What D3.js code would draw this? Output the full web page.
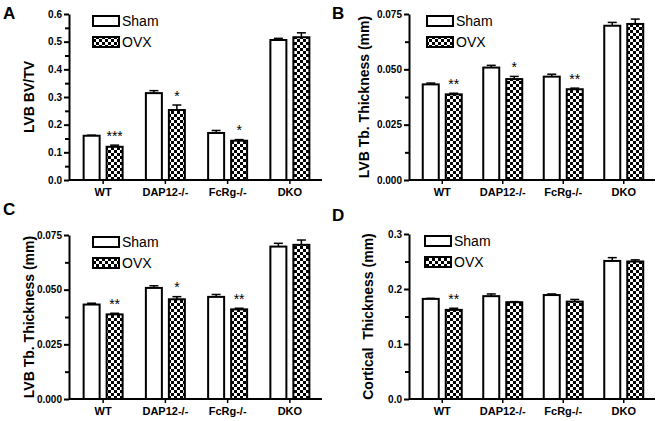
<!DOCTYPE html>
<html>
<head>
<meta charset="utf-8">
<script src="https://cdn.jsdelivr.net/npm/d3@7"></script>
<style>
  html, body { margin: 0; padding: 0; background: #fff; }
  svg { display: block; font-family: Arial, "Liberation Sans", sans-serif; }
</style>
</head>
<body>
<svg id="chart" width="661" height="421"></svg>
<script>
// ---------- data ----------
const categories = ["WT", "DAP12-/-", "FcRg-/-", "DKO"];
const seriesNames = ["Sham", "OVX"];

const bvtvSham    = [0.160, 0.314, 0.170, 0.506];
const bvtvShamErr = [0.002, 0.009, 0.009, 0.006];
const bvtvOvx     = [0.120, 0.253, 0.142, 0.516];
const bvtvOvxErr  = [0.006, 0.018, 0.004, 0.016];
const bvtvStars   = ["***", "*", "*", ""];
const bvtvTicks   = [0, 0.1, 0.2, 0.3, 0.4, 0.5, 0.6];

const tbSham    = [0.0432, 0.0508, 0.0467, 0.0697];
const tbShamErr = [0.0006, 0.0010, 0.0011, 0.0015];
const tbOvx     = [0.0387, 0.0456, 0.0410, 0.0705];
const tbOvxErr  = [0.0005, 0.0012, 0.0005, 0.0022];
const tbStars   = ["**", "*", "**", ""];
const tbTicks   = [0, 0.025, 0.050, 0.075];

const ctSham    = [0.182, 0.187, 0.189, 0.251];
const ctShamErr = [0.001, 0.004, 0.002, 0.006];
const ctOvx     = [0.162, 0.176, 0.177, 0.250];
const ctOvxErr  = [0.003, 0.001, 0.004, 0.003];
const ctStars   = ["**", "", "", ""];
const ctTicks   = [0, 0.1, 0.2, 0.3];

// ---------- drawing ----------
const svg = d3.select("#chart");
const defs = svg.append("defs");
const pat = defs.append("pattern").attr("id", "checker")
  .attr("patternUnits", "userSpaceOnUse").attr("width", 6).attr("height", 6);
pat.append("rect").attr("width", 6).attr("height", 6).attr("fill", "#fff");
pat.append("rect").attr("x", 0).attr("y", 0).attr("width", 3).attr("height", 3).attr("fill", "#000");
pat.append("rect").attr("x", 3).attr("y", 3).attr("width", 3).attr("height", 3).attr("fill", "#000");

function panel(cfg) {
  const g = svg.append("g");
  const y = d3.scaleLinear().domain([0, cfg.yMax]).range([cfg.bottom, cfg.top]);
  const x = d3.scaleBand().domain(categories).range([cfg.left + 3, cfg.right - 1]).padding(0);

  // panel letter
  svg.append("text").attr("x", cfg.letterX).attr("y", cfg.letterY)
    .attr("font-size", 17).attr("font-weight", "bold").text(cfg.letter);

  // y axis
  const minorTicks = [];
  for (let i = 0; i < cfg.ticks.length - 1; i++) minorTicks.push((cfg.ticks[i] + cfg.ticks[i + 1]) / 2);
  const yAxis = d3.axisLeft(y).tickValues(cfg.ticks).tickFormat(cfg.fmt).tickSize(5).tickSizeOuter(0).tickPadding(2);
  const ya = g.append("g").attr("transform", `translate(${cfg.left},0)`).call(yAxis);
  ya.select(".domain").attr("stroke-width", 2).attr("stroke", "#000");
  ya.selectAll(".tick line").attr("stroke-width", 2);
  ya.selectAll(".tick text").attr("font-size", 10).attr("font-weight", "bold")
    .attr("font-family", "Arial, 'Liberation Sans', sans-serif");
  const yMinor = d3.axisLeft(y).tickValues(minorTicks).tickFormat("").tickSize(4).tickSizeOuter(0);
  const ym = g.append("g").attr("transform", `translate(${cfg.left},0)`).call(yMinor);
  ym.select(".domain").remove();
  ym.selectAll(".tick line").attr("stroke-width", 2);

  // x axis
  const xAxis = d3.axisBottom(x).tickSize(4).tickSizeOuter(0).tickPadding(4);
  const xa = g.append("g").attr("transform", `translate(0,${cfg.bottom})`).call(xAxis);
  xa.select(".domain").attr("d", `M${cfg.left},0H${cfg.right}`).attr("stroke-width", 2);
  xa.selectAll(".tick line").attr("stroke-width", 1.5);
  xa.selectAll(".tick text").attr("font-size", 11).attr("font-weight", "bold")
    .attr("font-family", "Arial, 'Liberation Sans', sans-serif");

  // y title
  g.append("text")
    .attr("transform", `translate(${cfg.left - cfg.titleOff},${(cfg.top + cfg.bottom) / 2}) rotate(-90)`)
    .attr("text-anchor", "middle").attr("font-size", 14).attr("font-weight", "bold")
    .attr("xml:space", "preserve")
    .text(cfg.title);

  // bars
  const bw = 16, gap = 3.5;
  const series = [
    { vals: cfg.sham, errs: cfg.shamErr, fill: "#fff", off: -gap - bw },
    { vals: cfg.ovx, errs: cfg.ovxErr, fill: "url(#checker)", off: gap }
  ];
  series.forEach(s => {
    categories.forEach((c, i) => {
      const cx = x(c) + x.bandwidth() / 2;
      const x0 = cx + s.off;
      const v = s.vals[i], e = s.errs[i];
      const ye = y(v + e);
      // error bar (upper only)
      g.append("line").attr("x1", x0 + bw / 2).attr("x2", x0 + bw / 2)
        .attr("y1", y(v)).attr("y2", ye).attr("stroke", "#000").attr("stroke-width", 1.5);
      g.append("line").attr("x1", x0 + bw / 2 - 4.5).attr("x2", x0 + bw / 2 + 4.5)
        .attr("y1", ye).attr("y2", ye).attr("stroke", "#000").attr("stroke-width", 1.5);
      g.append("rect").attr("x", x0).attr("y", y(v)).attr("width", bw).attr("height", y(0) - y(v))
        .attr("fill", s.fill).attr("stroke", "#000").attr("stroke-width", 2);
    });
  });

  // significance stars
  categories.forEach((c, i) => {
    if (!cfg.stars[i]) return;
    const cx = x(c) + x.bandwidth() / 2 + gap + bw / 2;
    g.append("text").attr("x", cx).attr("y", y(cfg.ovx[i] + cfg.ovxErr[i]))
      .attr("text-anchor", "middle").attr("font-size", 14).attr("dy", "-0.3em")
      .text(cfg.stars[i]);
  });

  // legend
  const lx = cfg.left + cfg.legOff, ly = cfg.top + 2;
  seriesNames.forEach((n, i) => {
    g.append("rect").attr("x", lx).attr("y", ly + i * 21).attr("width", 26).attr("height", 10)
      .attr("fill", i === 0 ? "#fff" : "url(#checker)").attr("stroke", "#000").attr("stroke-width", 2);
    g.append("text").attr("x", lx + 29).attr("y", ly + i * 21 + 10)
      .attr("font-size", 14).text(n);
  });
}

const f1 = d3.format(".1f"), f3 = d3.format(".3f");

panel({ letter: "A", letterX: 3, letterY: 19, left: 69, right: 322, top: 14, bottom: 180,
  yMax: 0.6, ticks: bvtvTicks, fmt: f1, title: "LVB BV/TV", titleOff: 35, legOff: 24,
  sham: bvtvSham, shamErr: bvtvShamErr, ovx: bvtvOvx, ovxErr: bvtvOvxErr, stars: bvtvStars });

panel({ letter: "B", letterX: 332, letterY: 19, left: 409, right: 655, top: 14, bottom: 180,
  yMax: 0.075, ticks: tbTicks, fmt: f3, title: "LVB Tb. Thickness (mm)", titleOff: 40, legOff: 18,
  sham: tbSham, shamErr: tbShamErr, ovx: tbOvx, ovxErr: tbOvxErr, stars: tbStars });

panel({ letter: "C", letterX: 3, letterY: 215, left: 69, right: 322, top: 235, bottom: 399,
  yMax: 0.075, ticks: tbTicks, fmt: f3, title: "LVB Tb. Thickness (mm)", titleOff: 35, legOff: 24,
  sham: tbSham, shamErr: tbShamErr, ovx: tbOvx, ovxErr: tbOvxErr, stars: tbStars });

panel({ letter: "D", letterX: 332, letterY: 221, left: 409, right: 655, top: 234, bottom: 399,
  yMax: 0.3, ticks: ctTicks, fmt: f1, title: "Cortical  Thickness (mm)", titleOff: 36, legOff: 16,
  sham: ctSham, shamErr: ctShamErr, ovx: ctOvx, ovxErr: ctOvxErr, stars: ctStars });
</script>
</body>
</html>
